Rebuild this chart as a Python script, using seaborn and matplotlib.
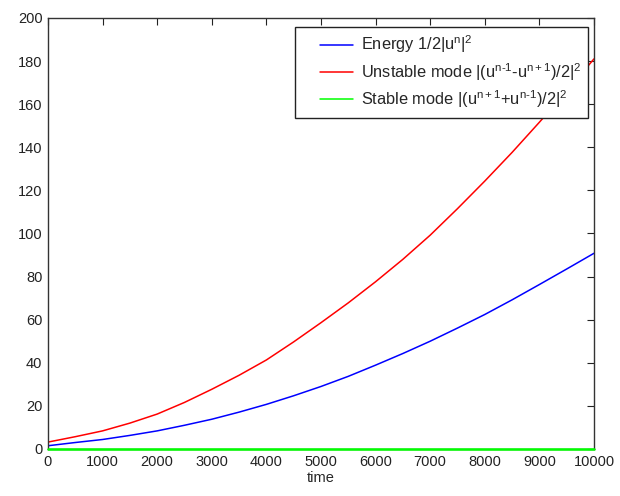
import numpy as np
import pandas as pd
import matplotlib
matplotlib.use('Agg')
import matplotlib.pyplot as plt
from matplotlib.patches import Rectangle
import seaborn as sns

# values
time = [0, 500, 1000, 1500, 2000, 2500, 3000, 3500, 4000, 4500, 5000,
        5500, 6000, 6500, 7000, 7500, 8000, 8500, 9000, 9500, 10000]
energy = [1.5, 3.0, 4.4, 6.3, 8.4, 11.0, 13.8, 17.1, 20.7, 24.7, 29.0,
          33.7, 38.9, 44.3, 50.0, 56.1, 62.4, 69.2, 76.3, 83.5, 90.8]
unstable = [3.2, 5.7, 8.4, 12.0, 16.2, 21.6, 27.7, 34.2, 41.3, 49.7, 58.6,
            67.8, 77.6, 88.0, 99.2, 111.5, 124.3, 137.6, 151.6, 166.0, 181.0]
stable = [0.0] * 21

labels = [r'Energy 1/2|u$^{n}$|$^{2}$',
          r'Unstable mode |(u$^{n\text{-}1}$-u$^{n+1}$)/2|$^{2}$',
          r'Stable mode |(u$^{n+1}$+u$^{n\text{-}1}$)/2|$^{2}$']
colors = ['#0000ff', '#ff0000', '#00ff00']

sns.set_style('white')
plt.rcParams['font.family'] = ['Liberation Sans', 'DejaVu Sans']
plt.rcParams['mathtext.fontset'] = 'custom'
plt.rcParams['mathtext.rm'] = 'Liberation Sans'
plt.rcParams['mathtext.it'] = 'Liberation Sans'
plt.rcParams['mathtext.default'] = 'rm'

n = len(time)
df = pd.DataFrame({'time': time * 3,
                   'value': energy + unstable + stable,
                   'series': [labels[0]] * n + [labels[1]] * n + [labels[2]] * n})

fig = plt.figure(figsize=(6.2, 4.96), dpi=100)
ax = fig.add_axes([0.0774, 0.0948, 0.8806, 0.869])

sns.lineplot(data=df, x='time', y='value', hue='series', palette=colors,
             linewidth=1.1, ax=ax)
# stable mode line sits on the x axis; draw it over the spine
ax.lines[2].set_clip_on(False)
ax.lines[2].set_linewidth(1.8)
ax.lines[2].set_zorder(5)

ax.set_xlim(0, 10000)
ax.set_ylim(0, 200)
ax.set_xticks(range(0, 10001, 1000))
ax.set_yticks(range(0, 201, 20))
ax.tick_params(direction='in', length=5, width=0.8, top=True, right=True,
               labelsize=10.5, colors='#222222', pad=4)
for s in ax.spines.values():
    s.set_color('#333333')
    s.set_linewidth(1.0)
ax.set_xlabel('time', fontsize=10.5, labelpad=2)
ax.set_ylabel('')

# MATLAB-like legend box with wide left margin
box = Rectangle((0.452, 0.768), 0.537, 0.211, transform=ax.transAxes,
                facecolor='white', edgecolor='#222222', linewidth=1.0, zorder=6)
ax.add_patch(box)

leg = ax.legend(loc='upper right', bbox_to_anchor=(0.989, 0.979), borderaxespad=0,
                fontsize=11.8, frameon=False, handlelength=2.0, handletextpad=0.5,
                labelspacing=0.35, borderpad=0.4)
leg.set_zorder(7)
for h in leg.get_lines():
    h.set_linewidth(1.1)

fig.savefig('out.png', dpi=100)
